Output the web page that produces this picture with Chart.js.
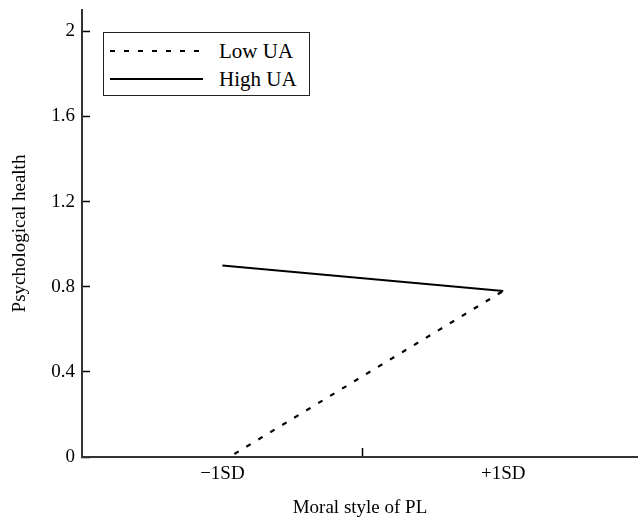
<!DOCTYPE html>
<html>
<head>
<meta charset="utf-8">
<script src="https://cdn.jsdelivr.net/npm/chart.js@4/dist/chart.umd.min.js"></script>
<style>
  html, body { margin: 0; padding: 0; background: #fff; }
  #wrap { position: relative; width: 638px; height: 521px; }
  #legend {
    position: absolute; left: 103px; top: 32px; width: 207px; height: 64px;
    box-sizing: border-box; border: 1px solid #222; background: #fff;
    padding-top: 4px;
    font-family: 'Liberation Serif', 'DejaVu Serif', serif; font-size: 21px; color: #000;
  }
  .row { display: flex; align-items: center; height: 28px; }
  .row svg { margin-left: 6px; margin-right: 16px; flex: none; }
</style>
</head>
<body>
<div id="wrap">
  <canvas id="c" width="638" height="521"></canvas>
  <div id="legend"></div>
</div>
<script>
// ---- data ----
const xPositions = [-1, 1];
const xLabels = ['\u22121SD', '+1SD'];
const lowUA = [-0.02, 0.78];
const highUA = [0.90, 0.78];
const yTicks = [0, 0.4, 0.8, 1.2, 1.6, 2];
const seriesNames = ['Low UA', 'High UA'];
const xTitle = 'Moral style of PL';
const yTitle = 'Psychological health';

const toPoints = vals => vals.map((v, i) => ({ x: xPositions[i], y: v }));
const serif = "'Liberation Serif', 'DejaVu Serif', serif";
const axisColor = '#333';

const chart = new Chart(document.getElementById('c'), {
  type: 'line',
  data: {
    datasets: [
      { label: seriesNames[0], data: toPoints(lowUA), borderColor: '#000', borderWidth: 2.2,
        borderDash: [5, 9], pointRadius: 0, fill: false, clip: 0 },
      { label: seriesNames[1], data: toPoints(highUA), borderColor: '#000', borderWidth: 2,
        pointRadius: 0, fill: false, clip: 0 }
    ]
  },
  options: {
    responsive: false,
    animation: false,
    devicePixelRatio: 1,
    layout: { padding: { top: 10, right: 0, left: 0, bottom: 0 } },
    plugins: { legend: { display: false }, tooltip: { enabled: false } },
    scales: {
      x: {
        type: 'linear', min: -2, max: 1.96,
        afterBuildTicks: s => { s.ticks = [xPositions[0], 0, xPositions[1]].map(v => ({ value: v })); },
        afterFit: s => { s.height = 64; s.paddingLeft = 0; s.paddingRight = 0; },
        ticks: {
          autoSkip: false, maxRotation: 0, padding: 15, color: '#000',
          font: { family: serif, size: 19 },
          callback: v => { const i = xPositions.indexOf(v); return i >= 0 ? xLabels[i] : ''; }
        },
        grid: {
          drawOnChartArea: false, drawTicks: true, tickLength: -9, tickWidth: 1.5,
          color: ctx => (ctx.tick && ctx.tick.value === 0) ? '#000' : 'rgba(0,0,0,0)'
        },
        border: { display: true, color: axisColor, width: 2 },
        title: { display: true, text: xTitle, color: '#000', font: { family: serif, size: 19 },
                 padding: { top: 0, bottom: 2 } }
      },
      y: {
        type: 'linear', min: 0, max: 2.1,
        afterBuildTicks: s => { s.ticks = yTicks.map(v => ({ value: v })); },
        afterFit: s => { s.width = 82; s.paddingTop = 0; s.paddingBottom = 0; },
        ticks: {
          padding: 15, color: '#000', font: { family: serif, size: 19 },
          callback: v => String(Math.round(v * 10) / 10)
        },
        grid: { drawOnChartArea: false, drawTicks: true, tickLength: -8, tickWidth: 1.5, color: '#000' },
        border: { display: true, color: axisColor, width: 2 },
        title: { display: true, text: yTitle, color: '#000', font: { family: serif, size: 19 },
                 padding: { top: 9, bottom: 0 } }
      }
    }
  }
});

// HTML legend built from the chart's datasets
const legend = document.getElementById('legend');
chart.data.datasets.forEach(ds => {
  const row = document.createElement('div');
  row.className = 'row';
  const dash = ds.borderDash ? ds.borderDash.join(' ') : 'none';
  row.innerHTML = '<svg width="93" height="4"><line x1="0" y1="2" x2="93" y2="2" stroke="' + ds.borderColor +
    '" stroke-width="2" stroke-dasharray="' + dash + '"/></svg><span>' + ds.label + '</span>';
  legend.appendChild(row);
});
</script>
</body>
</html>
